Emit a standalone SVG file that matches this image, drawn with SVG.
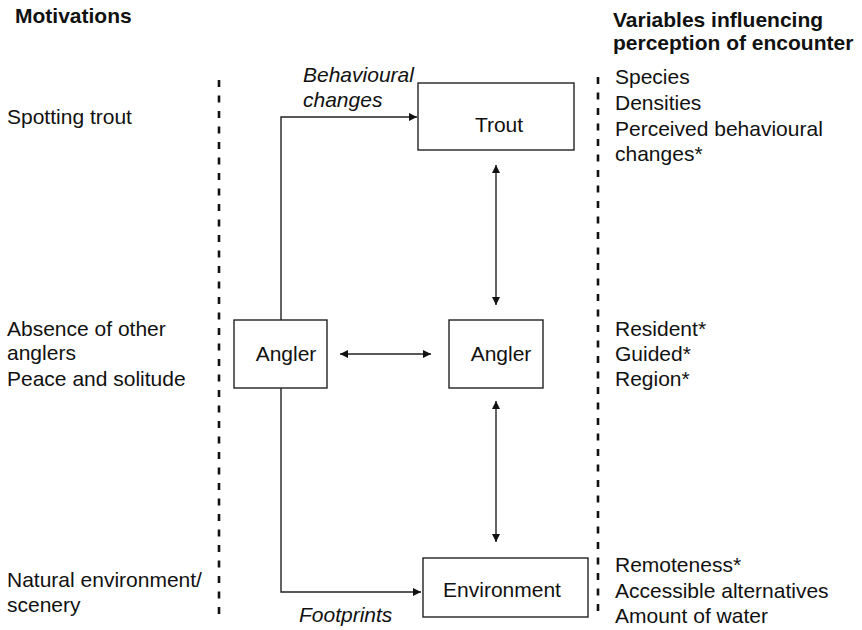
<svg xmlns="http://www.w3.org/2000/svg" width="862" height="630" viewBox="0 0 862 630">
<defs>
<marker id="ah" viewBox="0 0 10 10" refX="10" refY="5" markerWidth="8" markerHeight="8" markerUnits="userSpaceOnUse" orient="auto-start-reverse">
<path d="M0,0 L10,5 L0,10 z" fill="#111"/>
</marker>
<style>
text{font-family:"Liberation Sans",Arial,Helvetica,sans-serif;font-size:21px;fill:#111}
.b{font-weight:bold}
.i{font-style:italic}
.box{fill:#fff;stroke:#222;stroke-width:1.4}
.con{fill:none;stroke:#222;stroke-width:1.4}
.dash{stroke:#111;stroke-width:2.6;stroke-dasharray:7 8.5}
.c{text-anchor:middle}
</style>
</defs>
<rect width="862" height="630" fill="#fff"/>
<g id="headers">
<text class="b" x="15" y="23">Motivations</text>
<text class="b" x="613" y="27">Variables influencing</text>
<text class="b" x="613" y="50">perception of encounter</text>
</g>
<g id="dividers">
<line class="dash" x1="219" y1="80" x2="219" y2="614"/>
<line class="dash" x1="598" y1="77" x2="598" y2="614"/>
</g>
<g id="motivations">
<text x="7" y="124">Spotting trout</text>
<text x="7" y="336">Absence of other</text>
<text x="7" y="360">anglers</text>
<text x="7" y="386">Peace and solitude</text>
<text x="7" y="587">Natural environment/</text>
<text x="7" y="612">scenery</text>
</g>
<g id="variables">
<text x="615" y="84">Species</text>
<text x="615" y="110">Densities</text>
<text x="615" y="136">Perceived behavioural</text>
<text x="615" y="161">changes*</text>
<text x="615" y="336">Resident*</text>
<text x="615" y="361">Guided*</text>
<text x="615" y="386">Region*</text>
<text x="615" y="572">Remoteness*</text>
<text x="615" y="598">Accessible alternatives</text>
<text x="615" y="623">Amount of water</text>
</g>
<g id="connectors">
<polyline class="con" points="281,320 281,117 417,117" marker-end="url(#ah)"/>
<polyline class="con" points="281,388 281,592 421,592" marker-end="url(#ah)"/>
<line class="con" x1="340" y1="354" x2="431" y2="354" marker-start="url(#ah)" marker-end="url(#ah)"/>
<line class="con" x1="496" y1="165" x2="496" y2="305" marker-start="url(#ah)" marker-end="url(#ah)"/>
<line class="con" x1="496" y1="401" x2="496" y2="542" marker-start="url(#ah)" marker-end="url(#ah)"/>
<text class="i" x="303" y="82">Behavioural</text>
<text class="i" x="303" y="107">changes</text>
<text class="i" x="299" y="622">Footprints</text>
</g>
<g id="trout">
<rect class="box" x="418" y="83" width="156" height="67"/>
<text class="c" x="499" y="132">Trout</text>
</g>
<g id="angler1">
<rect class="box" x="234" y="320" width="93" height="68"/>
<text class="c" x="286" y="361">Angler</text>
</g>
<g id="angler2">
<rect class="box" x="449" y="320" width="94" height="68"/>
<text class="c" x="501" y="361">Angler</text>
</g>
<g id="environment">
<rect class="box" x="423" y="558" width="165" height="59"/>
<text class="c" x="502" y="597">Environment</text>
</g>
</svg>
